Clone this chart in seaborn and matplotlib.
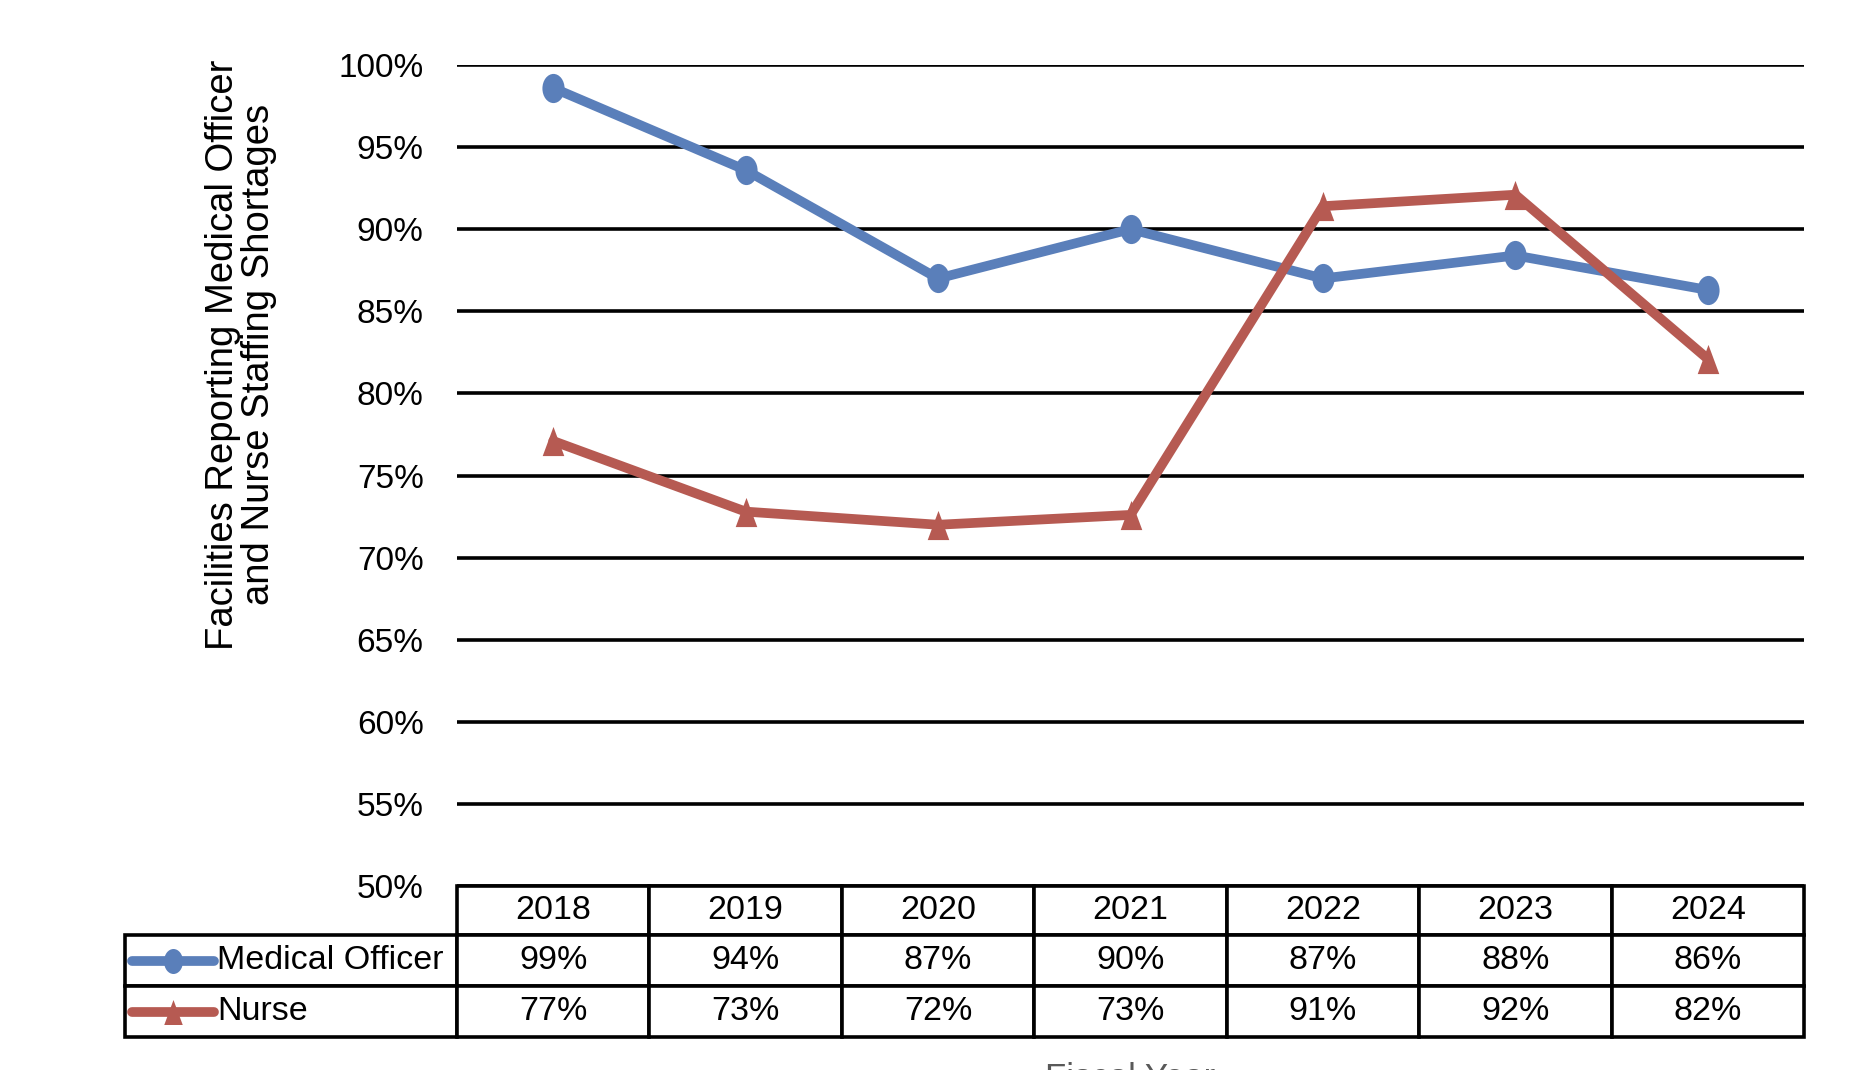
import pandas as pd
import matplotlib.pyplot as plt
import matplotlib.ticker as mtick
from matplotlib.path import Path
from matplotlib.transforms import Affine2D
from matplotlib.table import Table
import seaborn as sns

# values
years = [2018, 2019, 2020, 2021, 2022, 2023, 2024]
medical_officer = [0.986, 0.936, 0.870, 0.900, 0.870, 0.884, 0.863]
nurse = [0.771, 0.728, 0.720, 0.726, 0.914, 0.921, 0.821]
series_names = ["Medical Officer", "Nurse"]
y_ticks = [0.50, 0.55, 0.60, 0.65, 0.70, 0.75, 0.80, 0.85, 0.90, 0.95, 1.00]

blue = "#5A7FBA"
red = "#B65A52"

sns.set_theme(style="white")
plt.rcParams["font.family"] = ["Liberation Sans", "DejaVu Sans"]

# the source picture is squeezed sideways, so markers are a bit tall
ellipse = Path.unit_circle().transformed(Affine2D().scale(0.76, 1.0))
triangle = Path([(-0.37, -0.5), (0.37, -0.5), (0.0, 0.5), (-0.37, -0.5)], closed=True)
marker_map = {series_names[0]: ellipse, series_names[1]: triangle}
color_map = {series_names[0]: blue, series_names[1]: red}

df = pd.DataFrame({
    "Year": years * 2,
    "Share": medical_officer + nurse,
    "Series": [series_names[0]] * len(years) + [series_names[1]] * len(years),
})

fig = plt.figure(figsize=(18.76, 10.70), dpi=100)
ax = fig.add_axes([457 / 1876, 184 / 1070, 1347 / 1876, 821 / 1070])

sns.lineplot(data=df, x="Year", y="Share", hue="Series", style="Series",
             palette=color_map, markers=marker_map, dashes=False,
             linewidth=7, markersize=21, markeredgewidth=0,
             legend=False, ax=ax, zorder=3)

ax.set_xlim(years[0] - 0.5, years[-1] + 0.5)
ax.set_ylim(0.5, 1.0)
ax.set_yticks(y_ticks)
ax.yaxis.set_major_formatter(mtick.PercentFormatter(1.0, decimals=0))
ax.tick_params(axis="y", length=0, pad=24, labelsize=24, labelcolor="black")
ax.set_xticks([])
ax.set_xlabel("")
ax.grid(axis="y", color="black", linewidth=2.6)
ax.grid(axis="x", visible=False)
for s in ax.spines.values():
    s.set_visible(False)

ax.set_ylabel("Facilities Reporting Medical Officer\nand Nurse Staffing Shortages",
              fontsize=27.5, color="black", multialignment="center", linespacing=1.0)
ax.yaxis.set_label_coords(-0.134, 0.647)

# data table under the chart (header row + one row per series), sizes in axes units
col_w = 1 / len(years)
label_w = 332 / 1347
head_h = 49 / 821
row_h = 51 / 821
tbl = Table(ax, bbox=[0, -(head_h + 2 * row_h), 1, head_h + 2 * row_h])
for j, yr in enumerate(years):
    tbl.add_cell(0, j, width=col_w, height=head_h, text=str(yr), loc="center")
for i, (name, vals) in enumerate(zip(series_names, [medical_officer, nurse])):
    lab = tbl.add_cell(i + 1, -1, width=label_w, height=row_h, text=name, loc="left")
    lab.PAD = 0.278
    for j, v in enumerate(vals):
        tbl.add_cell(i + 1, j, width=col_w, height=row_h, text=f"{v:.0%}", loc="center")
tbl.auto_set_font_size(False)
tbl.set_fontsize(24.5)
for cell in tbl.get_celld().values():
    cell.set_edgecolor("black")
    cell.set_linewidth(2.6)
    cell.get_text().set_color("black")
ax.add_table(tbl)

# legend keys inside the row label cells
for i, name in enumerate(series_names):
    yk = -(head_h + row_h * (i + 0.5))
    ax.plot([-0.2413, -0.1804], [yk, yk], color=color_map[name], linewidth=7,
            solid_capstyle="round", transform=ax.transAxes, clip_on=False, zorder=5)
    ax.plot([-0.2108], [yk], marker=marker_map[name], color=color_map[name],
            markersize=18, markeredgewidth=0, transform=ax.transAxes,
            clip_on=False, zorder=6)

fig.text(1130 / 1876, 8 / 1070, "Fiscal Year", ha="center", va="top",
         fontsize=25, color="#595959")

fig.savefig("out.png", dpi=100)
